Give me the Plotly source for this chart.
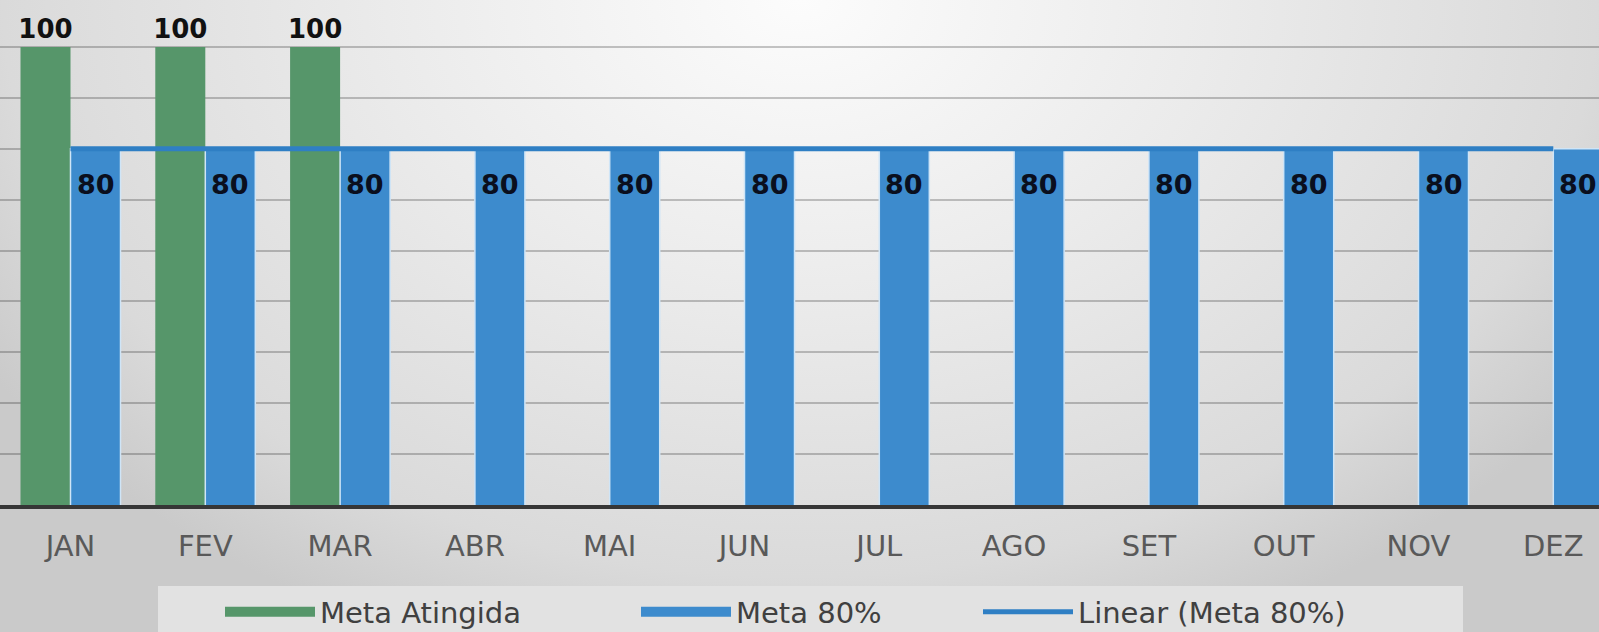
import base64
import numpy as np
import plotly.graph_objects as go

# ---- data ----
months = ["JAN", "FEV", "MAR", "ABR", "MAI", "JUN", "JUL", "AGO", "SET", "OUT", "NOV", "DEZ"]
meta_atingida = [100, 100, 100, None, None, None, None, None, None, None, None, None]
meta_80 = [80, 80, 80, 80, 80, 80, 80, 80, 80, 80, 80, 80]

# linear trendline of "Meta 80%" (least squares fit, like Excel's trendline)
idx = np.arange(len(meta_80))
slope, intercept = np.polyfit(idx, meta_80, 1)
trend = list(slope * idx + intercept)

GREEN = "#56966a"
BLUE = "#3d8bcd"
LINE = "#2f7fc4"
FONT = "DejaVu Sans"

W, H = 1599, 632
PLOT_BOTTOM = 505

fig = go.Figure()

fig.add_trace(go.Bar(
    x=months, y=meta_atingida, name="Meta Atingida",
    marker=dict(color=GREEN, line=dict(width=0)),
    text=[f"<b>{v}</b>" if v is not None else "" for v in meta_atingida],
    textposition="outside", cliponaxis=False, constraintext="none",
    textfont=dict(family=FONT, size=26, color="#111111"),
    showlegend=False,
))
fig.add_trace(go.Bar(
    x=months, y=meta_80, name="Meta 80%",
    marker=dict(color=BLUE, line=dict(width=1.5, color="#cfe5f7")),
    showlegend=False,
))
fig.add_trace(go.Scatter(
    x=months, y=trend, name="Linear (Meta 80%)", mode="lines",
    line=dict(color=LINE, width=5),
    legend="legend3",
))
# legend-only entries with wide swatches (like Excel's rectangle keys)
fig.add_trace(go.Scatter(
    x=[None], y=[None], name="Meta Atingida", mode="lines",
    line=dict(color=GREEN, width=15), legend="legend",
))
fig.add_trace(go.Scatter(
    x=[None], y=[None], name="Meta 80%", mode="lines",
    line=dict(color=BLUE, width=15), legend="legend2",
))

annotations = []
for m, v in zip(months, meta_80):
    annotations.append(dict(
        x=m, y=v, xref="x", yref="y", text=f"<b>{v}</b>", showarrow=False,
        yanchor="top", xanchor="center", xshift=25, yshift=-18,
        font=dict(family=FONT, size=27, color="#0a0f1e"),
    ))

svg = (
    f'<svg xmlns="http://www.w3.org/2000/svg" width="{W}" height="{H}" viewBox="0 0 {W} {H}" preserveAspectRatio="none">'
    '<defs><radialGradient id="g" cx="0" cy="0" r="1" gradientUnits="userSpaceOnUse" '
    'gradientTransform="translate(800,0) scale(960,695)">'
    '<stop offset="0" stop-color="#fcfcfc"/>'
    '<stop offset="0.43" stop-color="#ebebeb"/>'
    '<stop offset="0.83" stop-color="#dadada"/>'
    '<stop offset="1" stop-color="#cacaca"/>'
    '</radialGradient></defs>'
    f'<rect width="{W}" height="{H}" fill="url(#g)"/></svg>'
)
svg_uri = "data:image/svg+xml;base64," + base64.b64encode(svg.encode()).decode()

def py(p):  # pixel y -> paper y
    return 1 - p / PLOT_BOTTOM

legend_common = dict(
    orientation="h", yanchor="middle", xanchor="left",
    font=dict(family=FONT, size=29, color="#404040"),
    bgcolor="rgba(0,0,0,0)", itemwidth=90,
)

fig.update_layout(
    width=W, height=H,
    margin=dict(l=0, r=0, t=0, b=H - PLOT_BOTTOM, pad=0, autoexpand=False),
    paper_bgcolor="#d8d8d8", plot_bgcolor="rgba(0,0,0,0)",
    barmode="group", bargap=0.258, bargroupgap=0.0,
    showlegend=True,
    legend=dict(x=220 / W, y=py(612), **legend_common),
    legend2=dict(x=636 / W, y=py(612), **legend_common),
    legend3=dict(x=978 / W, y=py(612), **legend_common),
    xaxis=dict(
        type="category", range=[-70.5 / 134.8, (W - 70.5) / 134.8],
        showline=True, linecolor="#363636", linewidth=4,
        showgrid=False, ticks="", ticklabelstandoff=12,
        tickfont=dict(family=FONT, size=29, color="#595959"),
        fixedrange=True,
    ),
    yaxis=dict(
        range=[10, 10 + PLOT_BOTTOM / 5.089], tick0=10, dtick=10,
        showgrid=True, gridcolor="rgba(0,0,0,0.22)", gridwidth=2,
        showticklabels=False, zeroline=False, showline=False, ticks="",
        fixedrange=True,
    ),
    images=[dict(
        source=svg_uri, xref="paper", yref="paper", x=0, y=1,
        sizex=1, sizey=H / PLOT_BOTTOM, xanchor="left", yanchor="top",
        sizing="stretch", layer="below",
    )],
    shapes=[dict(
        type="rect", xref="paper", yref="paper",
        x0=158 / W, x1=1463 / W, y0=py(586), y1=py(640),
        fillcolor="#e2e2e2", line=dict(width=0), layer="below",
    )],
    annotations=annotations,
)

fig.write_html(
    "out.html",
    config={"displayModeBar": False},
    post_script="document.body.style.margin='0';document.body.style.overflow='hidden';",
)
